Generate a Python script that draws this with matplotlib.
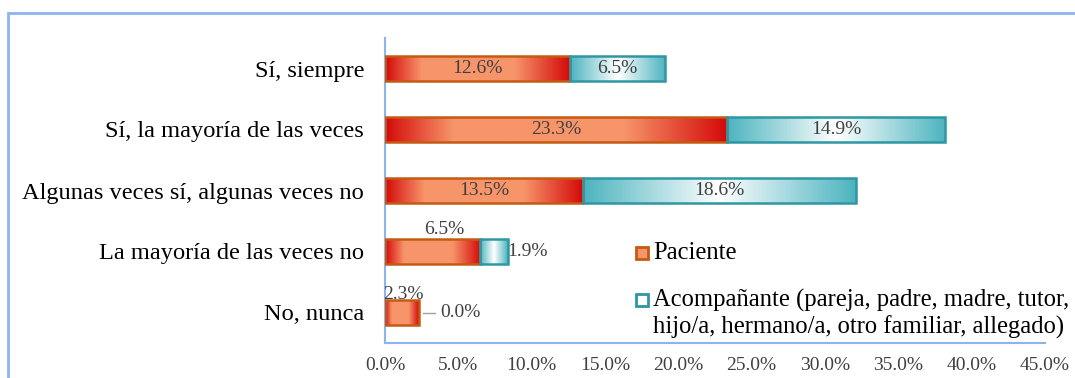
import numpy as np
import matplotlib
matplotlib.use('Agg')
from matplotlib import pyplot as plt
from matplotlib.colors import LinearSegmentedColormap
from matplotlib.patches import Rectangle

categories = ['Sí, siempre', 'Sí, la mayoría de las veces',
              'Algunas veces sí, algunas veces no', 'La mayoría de las veces no',
              'No, nunca']
paciente = [12.6, 23.3, 13.5, 6.5, 2.3]
acompanante = [6.5, 14.9, 18.6, 1.9, 0.0]
xticks = [0, 5, 10, 15, 20, 25, 30, 35, 40, 45]
legend_labels = ['Paciente',
                 'Acompañante (pareja, padre, madre, tutor,\nhijo/a, hermano/a, otro familiar, allegado)']

plt.rcParams['font.family'] = ['Liberation Serif', 'DejaVu Serif']

red_cmap = LinearSegmentedColormap.from_list(
    'pac', [(0, '#d40a0a'), (0.2, '#f7956a'), (0.7, '#f7956a'), (1, '#d40a0a')])
teal_cmap = LinearSegmentedColormap.from_list(
    'aco', [(0, '#4cb4bf'), (0.5, '#ffffff'), (1, '#4cb4bf')])
red_edge = '#c55a11'
teal_edge = '#2e97a3'
spine_col = '#8db4f2'
text_col = '#404040'

fig = plt.figure(figsize=(10.75, 3.78), dpi=100)
ax = fig.add_axes([385 / 1075, 35 / 378, 660 / 1075, 305 / 378])

y = np.arange(len(categories))
h = 0.42


def gradient_fill(bars, cmap, edge):
    for b in bars:
        w = b.get_width()
        if w <= 0:
            continue
        x0, y0, hh = b.get_x(), b.get_y(), b.get_height()
        img = ax.imshow(np.linspace(0, 1, 256)[None, :], cmap=cmap,
                        extent=(x0, x0 + w, y0, y0 + hh), aspect='auto',
                        zorder=2, interpolation='bilinear')
        img.set_clip_path(b)
        b.set_facecolor('none')
        b.set_edgecolor(edge)
        b.set_linewidth(1.8)
        b.set_zorder(3)


b1 = ax.barh(y, paciente, height=h)
b2 = ax.barh(y, acompanante, height=h, left=paciente)
gradient_fill(b1, red_cmap, red_edge)
gradient_fill(b2, teal_cmap, teal_edge)

# data labels
lab_fs = 14
for i in range(3):
    ax.text(paciente[i] / 2, y[i], '%.1f%%' % paciente[i], ha='center', va='center',
            fontsize=lab_fs, color=text_col, zorder=4)
    ax.text(paciente[i] + acompanante[i] / 2, y[i], '%.1f%%' % acompanante[i],
            ha='center', va='center', fontsize=lab_fs, color=text_col, zorder=4)
ax.text(paciente[3] / 2 + 0.8, y[3] - 0.36, '%.1f%%' % paciente[3], ha='center',
        va='center', fontsize=lab_fs, color=text_col)
ax.text(paciente[3] + acompanante[3] - 0.1, y[3], '%.1f%%' % acompanante[3],
        ha='left', va='center', fontsize=lab_fs, color=text_col)
ax.text(paciente[4] / 2 + 0.1, y[4] - 0.3, '%.1f%%' % paciente[4], ha='center',
        va='center', fontsize=lab_fs, color=text_col)
ax.plot([paciente[4] + 0.3, paciente[4] + 1.1], [y[4], y[4]], color='#a0a0a0', lw=1)
ax.text(paciente[4] + 1.5, y[4], '%.1f%%' % acompanante[4], ha='left',
        va='center', fontsize=lab_fs, color=text_col)

ax.set_xlim(0, 45)
ax.set_ylim(len(categories) - 0.5, -0.5)
ax.set_yticks(y)
ax.set_yticklabels(categories, fontsize=17.6, color='black')
ax.set_xticks(xticks)
ax.set_xticklabels(['%.1f%%' % t for t in xticks], fontsize=14, color=text_col)
ax.tick_params(length=0)
ax.tick_params(axis='y', pad=15)
ax.tick_params(axis='x', pad=10)
for s in ['top', 'right']:
    ax.spines[s].set_visible(False)
for s in ['left', 'bottom']:
    ax.spines[s].set_color(spine_col)
    ax.spines[s].set_linewidth(1.5)

# legend drawn by hand so the marker lines up with the first text line
leg_x = 0.380
line_step = 27 / 305
for lab, fc, ec, ly in [(legend_labels[0], '#f7956a', red_edge, 0.295),
                        (legend_labels[1], '#ffffff', teal_edge, 0.141)]:
    ax.add_patch(Rectangle((leg_x, ly - 0.019), 0.019, 0.038, transform=ax.transAxes,
                           facecolor=fc, edgecolor=ec, lw=2, clip_on=False))
    for k, line in enumerate(lab.split('\n')):
        ax.text(leg_x + 0.026, ly - k * line_step, line, transform=ax.transAxes,
                ha='left', va='center', fontsize=17.7)

# outer frame
fig.patches.append(Rectangle((8 / 1075, -0.1), 1.2, (378 - 13) / 378 + 0.1,
                             transform=fig.transFigure, fill=False,
                             edgecolor=spine_col, lw=2))

fig.savefig('out.png', dpi=100)
